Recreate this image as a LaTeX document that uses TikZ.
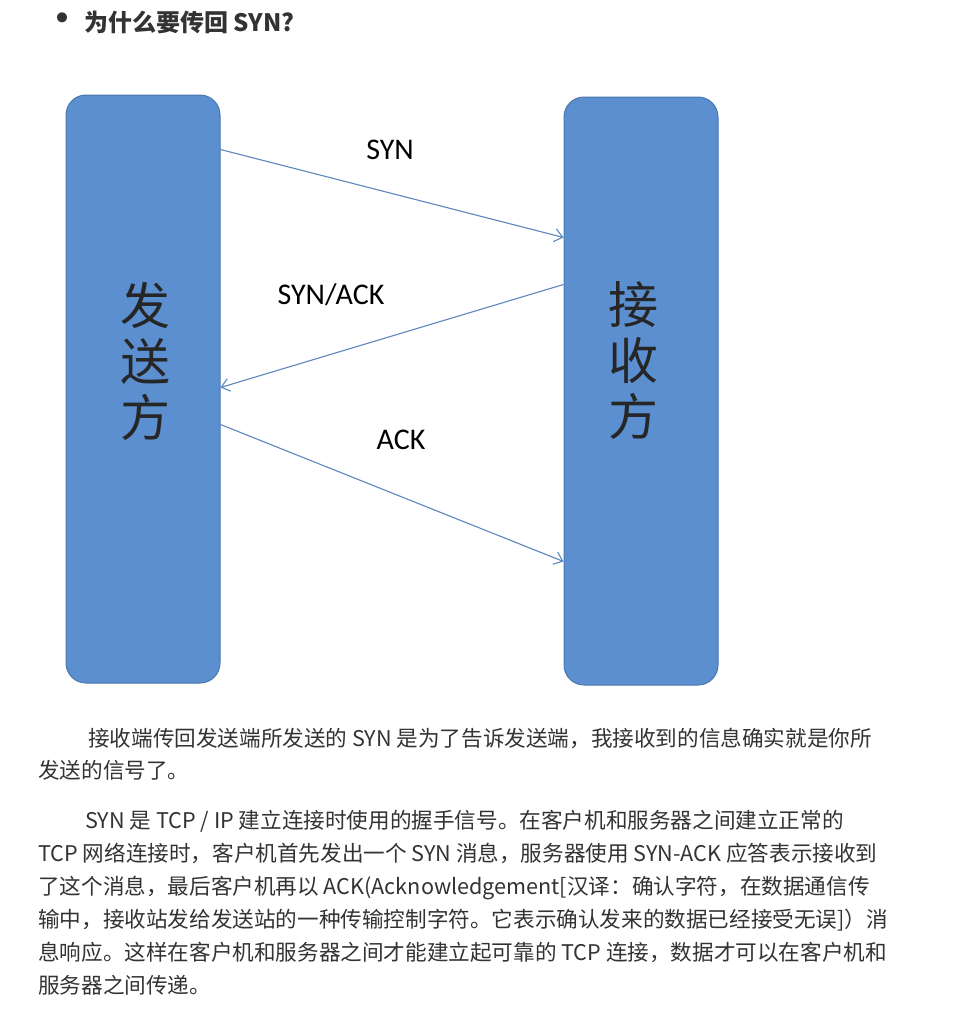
\documentclass[tikz,border=0pt]{standalone}
\usepackage{fontspec}
\setmainfont{Noto Sans CJK SC}
\newfontfamily\lblfont{Carlito}
\usetikzlibrary{arrows.meta}
\definecolor{boxblue}{HTML}{5B8FD0}
\definecolor{boxline}{HTML}{4A78AE}
\definecolor{arrowblue}{HTML}{5C86BE}
\definecolor{txtgray}{HTML}{333333}

\begin{document}
\begin{tikzpicture}[x=1pt, y=-1pt,
    party/.style={draw=boxline, fill=boxblue, line width=1pt, rounded corners=20pt,
      minimum width=154pt, minimum height=588pt},
    sidelbl/.style={font=\fontsize{50}{56}\selectfont, align=center, text=black!85},
    msg/.style={draw=arrowblue, line width=1.1pt, -{Straight Barb[length=8pt,width=13pt]}},
    msglbl/.style={font=\lblfont\fontsize{30}{30}\selectfont},
    txtline/.style={anchor=base west, inner sep=0pt, text=txtgray, font=\fontsize{21.6}{21.6}\selectfont}]
  \useasboundingbox[fill=white] (0,0) rectangle (954,1033);

  % title
  \node[inner sep=0pt, text=txtgray, font=\bfseries\fontsize{36}{36}\selectfont] (dot) at (62,22) {•};
  \node[anchor=west, inner sep=0pt, text=txtgray, font=\bfseries\fontsize{24}{24}\selectfont] (title) at (84,22) {为什么要传回 SYN?};

  % the two sides
  \node[party] (snd) at (143,389) {};
  \node[party] (rcv) at (641,391) {};
  \node[sidelbl] (sndlbl) at (145,361) {发\\送\\方};
  \node[sidelbl] (rcvlbl) at (633,361) {接\\收\\方};

  % handshake
  \draw[msg] ([yshift=-55pt]snd.north east) -- ([yshift=-141pt]rcv.north west);
  \draw[msg] ([yshift=-188pt]rcv.north west) -- ([yshift=-293pt]snd.north east);
  \draw[msg] ([yshift=-330pt]snd.north east) -- ([yshift=-465pt]rcv.north west);
  \node[msglbl] (syn) at (390,150) {SYN};
  \node[msglbl] (synack) at (331,295) {SYN/ACK};
  \node[msglbl] (ack) at (401,440) {ACK};

  % text below
  \node[txtline] (p1-1) at (88,746) {接收端传回发送端所发送的 SYN 是为了告诉发送端，我接收到的信息确实就是你所};
  \node[txtline] (p1-2) at (38,778) {发送的信号了。};
  \node[txtline] (p2-1) at (85,828) {SYN 是 TCP / IP 建立连接时使用的握手信号。在客户机和服务器之间建立正常的};
  \foreach \t [count=\i from 2] in {
      {TCP 网络连接时，客户机首先发出一个 SYN 消息，服务器使用 SYN-ACK 应答表示接收到},
      {了这个消息，最后客户机再以 ACK(Acknowledgement[汉译：确认字符，在数据通信传},
      {输中，接收站发给发送站的一种传输控制字符。它表示确认发来的数据已经接受无误]）消},
      {息响应。这样在客户机和服务器之间才能建立起可靠的 TCP 连接，数据才可以在客户机和},
      {服务器之间传递。}}
    \node[txtline] (p2-\i) at (38,{828+33*(\i-1)}) {\t};
\end{tikzpicture}
\end{document}
